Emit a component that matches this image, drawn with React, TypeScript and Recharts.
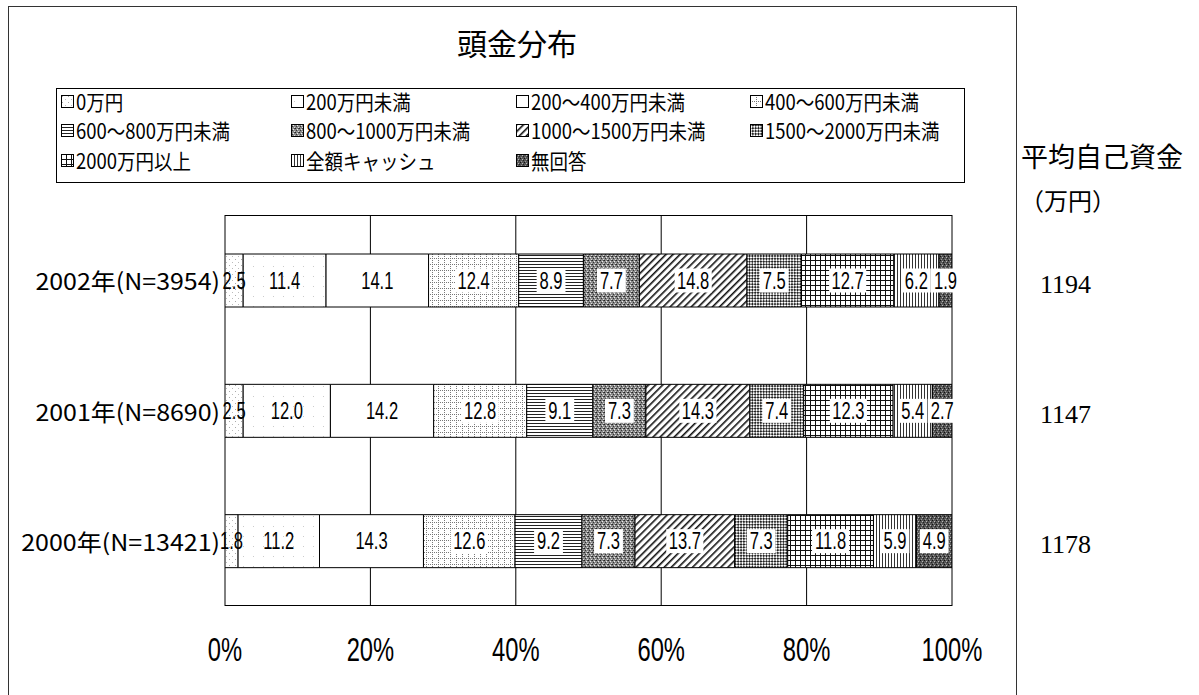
import React from 'react';
import { BarChart, Bar, XAxis, YAxis, CartesianGrid, LabelList } from 'recharts';

const categories = ['2002年(N=3954)', '2001年(N=8690)', '2000年(N=13421)'];
const seriesNames = [
  '0万円', '200万円未満', '200～400万円未満', '400～600万円未満',
  '600～800万円未満', '800～1000万円未満', '1000～1500万円未満', '1500～2000万円未満',
  '2000万円以上', '全額キャッシュ', '無回答',
];
const s0 = [2.5, 2.5, 1.8];
const s1 = [11.4, 12.0, 11.2];
const s2 = [14.1, 14.2, 14.3];
const s3 = [12.4, 12.8, 12.6];
const s4 = [8.9, 9.1, 9.2];
const s5 = [7.7, 7.3, 7.3];
const s6 = [14.8, 14.3, 13.7];
const s7 = [7.5, 7.4, 7.3];
const s8 = [12.7, 12.3, 11.8];
const s9 = [6.2, 5.4, 5.9];
const s10 = [1.9, 2.7, 4.9];
const averages = [1194, 1147, 1178];
const xTicks = [0, 20, 40, 60, 80, 100];
const title = '頭金分布';
const sideTitle = '平均自己資金';
const sideUnit = '（万円）';

const seriesValues = [s0, s1, s2, s3, s4, s5, s6, s7, s8, s9, s10];
const data = categories.map((cat, i) => {
  const row: Record<string, any> = { cat };
  seriesValues.forEach((s, k) => { row['s' + k] = s[i]; });
  return row;
});

const SANS = '"Noto Sans CJK JP", "Noto Sans", sans-serif';
const NUM = '"Liberation Sans", Arial, sans-serif';
const SERIF = '"Liberation Serif", "DejaVu Serif", serif';

const Patterns = () => (
  <svg width={0} height={0} style={{ position: 'absolute', left: 0, top: 0 }}>
    <defs>
      <pattern id="p0" width="6" height="6" patternUnits="userSpaceOnUse">
        <rect width="6" height="6" fill="#fff" />
        <rect x="1" y="1" width="1" height="1" fill="#aaa" />
        <rect x="4" y="4" width="1" height="1" fill="#bbb" />
      </pattern>
      <pattern id="p1" width="10" height="10" patternUnits="userSpaceOnUse">
        <rect width="10" height="10" fill="#fff" />
        <rect x="3" y="6" width="1" height="1" fill="#ccc" />
      </pattern>
      <pattern id="p2" width="10" height="10" patternUnits="userSpaceOnUse">
        <rect width="10" height="10" fill="#fff" />
      </pattern>
      <pattern id="p3" width="6" height="6" patternUnits="userSpaceOnUse">
        <rect width="6" height="6" fill="#fff" />
        <line x1="0" y1="0.5" x2="6" y2="0.5" stroke="#777" strokeWidth="1" strokeDasharray="1 1" />
        <line x1="0.5" y1="0" x2="0.5" y2="6" stroke="#777" strokeWidth="1" strokeDasharray="1 1" />
      </pattern>
      <pattern id="p4" width="4" height="3" patternUnits="userSpaceOnUse">
        <rect width="4" height="3" fill="#fff" />
        <line x1="0" y1="0.5" x2="4" y2="0.5" stroke="#222" strokeWidth="1" />
      </pattern>
      <pattern id="p5" width="4" height="4" patternUnits="userSpaceOnUse">
        <rect width="4" height="4" fill="#8a8a8a" />
        <rect x="0" y="0" width="1" height="1" fill="#222" />
        <rect x="2" y="1" width="1" height="1" fill="#eee" />
        <rect x="1" y="2" width="1" height="1" fill="#333" />
        <rect x="3" y="3" width="1" height="1" fill="#ddd" />
        <rect x="3" y="0" width="1" height="1" fill="#444" />
      </pattern>
      <pattern id="p6" width="5" height="5" patternUnits="userSpaceOnUse" patternTransform="rotate(45)">
        <rect width="5" height="5" fill="#fff" />
        <line x1="0.8" y1="0" x2="0.8" y2="5" stroke="#111" strokeWidth="1.6" />
      </pattern>
      <pattern id="p7" width="4" height="4" patternUnits="userSpaceOnUse" patternTransform="rotate(45)">
        <rect width="4" height="4" fill="#fff" />
        <rect x="0" y="0" width="2" height="2" fill="#222" />
        <rect x="2" y="2" width="2" height="2" fill="#222" />
      </pattern>
      <pattern id="p8" width="5" height="5" patternUnits="userSpaceOnUse">
        <rect width="5" height="5" fill="#fff" />
        <line x1="0" y1="0.5" x2="5" y2="0.5" stroke="#111" strokeWidth="1" />
        <line x1="0.5" y1="0" x2="0.5" y2="5" stroke="#111" strokeWidth="1" />
      </pattern>
      <pattern id="p9" width="3" height="4" patternUnits="userSpaceOnUse">
        <rect width="3" height="4" fill="#fff" />
        <line x1="0.5" y1="0" x2="0.5" y2="4" stroke="#333" strokeWidth="1" />
      </pattern>
      <pattern id="p10" width="4" height="4" patternUnits="userSpaceOnUse">
        <rect width="4" height="4" fill="#555" />
        <rect x="0" y="0" width="1" height="1" fill="#111" />
        <rect x="2" y="1" width="1" height="1" fill="#bbb" />
        <rect x="1" y="3" width="1" height="1" fill="#999" />
        <rect x="3" y="2" width="1" height="1" fill="#222" />
      </pattern>
    </defs>
  </svg>
);

const makeLabel = (boxed: boolean) => (props: any) => {
  const { x, y, width, height, value } = props;
  if (value == null) return null;
  const text = Number(value).toFixed(1);
  const cx = Number(x) + Number(width) / 2;
  const cy = Number(y) + Number(height) / 2;
  const fs = 23;
  const sx = 0.72;
  const tw = text.length * fs * 0.5 * sx;
  return (
    <g>
      {boxed && (
        <rect x={cx - tw / 2 - 2} y={cy - 12} width={tw + 4} height={24} fill="#fff" />
      )}
      <text
        transform={`translate(${cx},${cy}) scale(${sx},1)`}
        textAnchor="middle"
        dominantBaseline="central"
        fontSize={fs}
        fontFamily={NUM}
        fill="#000"
      >
        {text}
      </text>
    </g>
  );
};

const YTick = (props: any) => {
  const { x, y, payload } = props;
  const s = String(payload.value);
  return (
    <text
      x={x}
      y={y}
      textAnchor="end"
      dominantBaseline="central"
      fontSize={23}
      fontFamily={SANS}
      fill="#000"
      textLength={s.length * 14.2}
      lengthAdjust="spacingAndGlyphs"
    >
      {s}
    </text>
  );
};

const RightTick = (props: any) => {
  const { x, y, index } = props;
  return (
    <text x={x} y={y + 4} textAnchor="start" dominantBaseline="central" fontSize={26} fontFamily={SERIF} fill="#000">
      {averages[index]}
    </text>
  );
};

const XTick = (props: any) => {
  const { x, y, payload } = props;
  return (
    <text
      transform={`translate(${x},${y}) scale(0.72,1)`}
      textAnchor="middle"
      dominantBaseline="central"
      fontSize={33}
      fontFamily={NUM}
      fill="#000"
    >
      {payload.value + '%'}
    </text>
  );
};

const legendCols = [61, 291, 516, 750];
const legendRows = [101, 130, 160];

const Legend = () => (
  <div>
    <div style={{ position: 'absolute', left: 56, top: 88, width: 909, height: 95, border: '1px solid #000', boxSizing: 'border-box' }} />
    {seriesNames.map((name, i) => {
      const col = i % 4;
      const row = Math.floor(i / 4);
      const left = legendCols[col];
      const top = legendRows[row];
      return (
        <div key={name} style={{ position: 'absolute', left, top: top - 13, height: 26, display: 'flex', alignItems: 'center', whiteSpace: 'nowrap' }}>
          <svg width={13} height={13} style={{ marginRight: 2 }}>
            <rect x={0.5} y={0.5} width={12} height={12} fill={`url(#p${i})`} stroke="#000" strokeWidth={1} />
          </svg>
          <span style={{ fontFamily: SANS, fontSize: 21, color: '#000', display: 'inline-block', transform: 'scaleX(0.88)', transformOrigin: 'left center', lineHeight: '26px' }}>
            {name}
          </span>
        </div>
      );
    })}
  </div>
);

export default function App() {
  return (
    <div style={{ position: 'absolute', left: 0, top: 0, width: 1199, height: 695, background: '#fff', overflow: 'hidden' }}>
      <Patterns />
      <div style={{ position: 'absolute', left: 8, top: 6, width: 1009, height: 720, border: '1px solid #333', boxSizing: 'border-box' }} />
      <div style={{ position: 'absolute', left: 417, top: 26, width: 200, textAlign: 'center', fontFamily: SANS, fontSize: 30, lineHeight: '32px', color: '#000' }}>
        {title}
      </div>
      <Legend />
      <div style={{ position: 'absolute', left: 1021, top: 141, fontFamily: SANS, fontSize: 27, lineHeight: '30px', color: '#000', whiteSpace: 'nowrap' }}>
        {sideTitle}
      </div>
      <div style={{ position: 'absolute', left: 1020, top: 186, fontFamily: SANS, fontSize: 24, lineHeight: '28px', color: '#000', whiteSpace: 'nowrap' }}>
        {sideUnit}
      </div>
      <div style={{ position: 'absolute', left: 0, top: 0 }}>
        <BarChart
          width={1199}
          height={695}
          data={data}
          layout="vertical"
          margin={{ top: 215, bottom: 39, left: 10, right: 47 }}
        >
          <CartesianGrid horizontalPoints={[215.5, 605.5]} stroke="#000" strokeWidth={1} />
          <XAxis
            type="number"
            domain={[0, 100]}
            ticks={xTicks}
            allowDataOverflow
            axisLine={false}
            tickLine={false}
            tickSize={0}
            tickMargin={44}
            height={50}
            tick={<XTick />}
            interval={0}
          />
          <YAxis
            yAxisId="left"
            type="category"
            dataKey="cat"
            width={215}
            axisLine={false}
            tickLine={false}
            tickSize={0}
            tickMargin={5}
            tick={<YTick />}
            interval={0}
          />
          <YAxis
            yAxisId="right"
            orientation="right"
            type="category"
            dataKey="cat"
            width={200}
            axisLine={false}
            tickLine={false}
            tickSize={0}
            tickMargin={88}
            tick={<RightTick />}
            interval={0}
          />
          {seriesNames.map((name, k) => (
            <Bar
              key={name}
              yAxisId="left"
              dataKey={'s' + k}
              name={name}
              stackId="a"
              fill={`url(#p${k})`}
              stroke="#000"
              strokeWidth={1}
              barSize={53}
              isAnimationActive={false}
            >
              <LabelList dataKey={'s' + k} content={makeLabel(k >= 3)} />
            </Bar>
          ))}
        </BarChart>
      </div>
    </div>
  );
}
